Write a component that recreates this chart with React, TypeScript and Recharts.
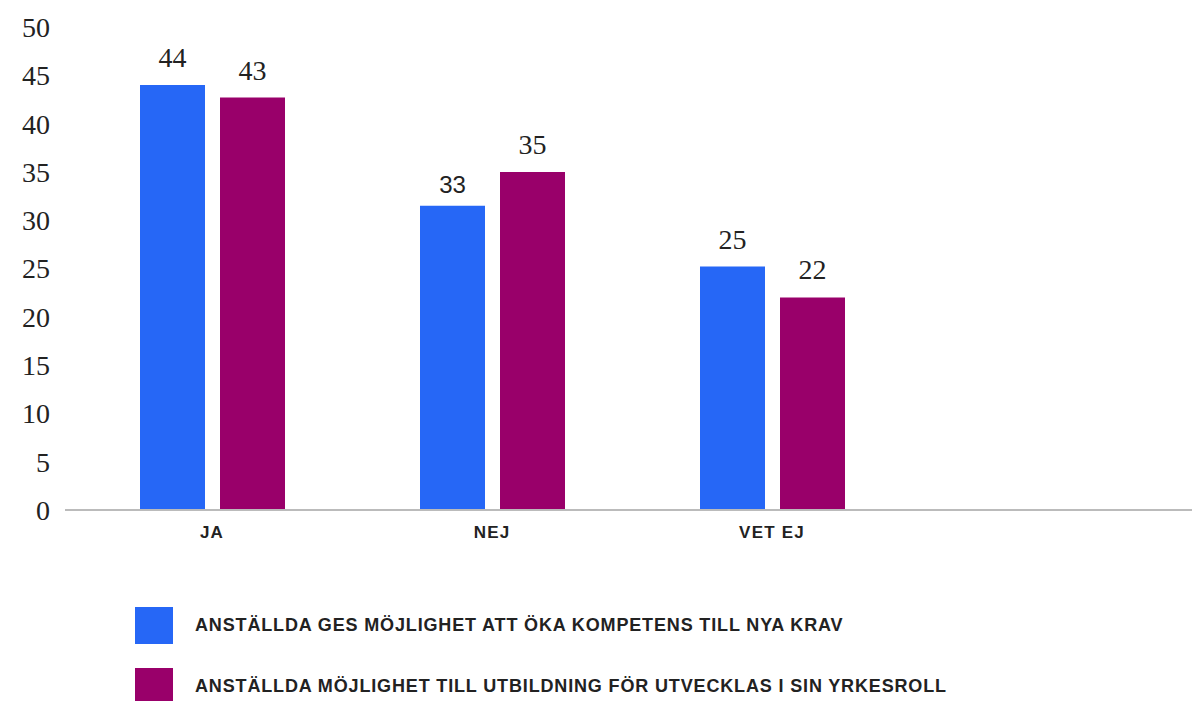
import React from "react";
import { BarChart, Bar, XAxis, YAxis, LabelList } from "recharts";

const categories = ["JA", "NEJ", "VET EJ", ""];
const seriesNames = [
  "ANSTÄLLDA GES MÖJLIGHET ATT ÖKA KOMPETENS TILL NYA KRAV",
  "ANSTÄLLDA MÖJLIGHET TILL UTBILDNING FÖR UTVECKLAS I SIN YRKESROLL",
];
const seriesA = [44, 31.5, 25.2, null];
const seriesB = [42.7, 35, 22, null];
const labelsA = ["44", "33", "25", ""];
const labelsB = ["43", "35", "22", ""];
const yTicks = [0, 5, 10, 15, 20, 25, 30, 35, 40, 45, 50];
const colors = ["#2667F6", "#99006A"];

const data = categories.map((c, i) => ({
  name: c,
  a: seriesA[i],
  b: seriesB[i],
  la: labelsA[i],
  lb: labelsB[i],
}));

const SERIF = "'Liberation Serif', 'DejaVu Serif', serif";
const SANS = "'Liberation Sans', Arial, sans-serif";

const makeLabel = (labels: string[], values: (number | null)[]) => (props: any) => {
  const { x, y, width, index } = props;
  const text = labels[index];
  if (!text) return null;
  const mismatch = String(Math.round(values[index] as number)) !== text;
  return (
    <text
      x={x + width / 2}
      y={y - (mismatch ? 13 : 18)}
      textAnchor="middle"
      fill="#222"
      fontFamily={mismatch ? SANS : SERIF}
      fontSize={mismatch ? 24 : 28}
    >
      {text}
    </text>
  );
};

const XTick = (props: any) => {
  const { x, y, payload } = props;
  return (
    <text
      x={x}
      y={y + 20}
      textAnchor="middle"
      fill="#222"
      fontFamily={SANS}
      fontWeight={900}
      fontSize={17}
      letterSpacing={1.2}
    >
      {payload.value}
    </text>
  );
};

export default function App() {
  return (
    <div style={{ position: "absolute", left: 0, top: 0, width: 1192, height: 701, background: "#fff" }}>
      <BarChart
        width={1192}
        height={701}
        data={data}
        margin={{ top: 27, right: 0, left: 0, bottom: 0 }}
        barGap={15}
        barSize={65}
      >
        <YAxis
          domain={[0, 50]}
          ticks={yTicks}
          width={65}
          axisLine={false}
          tickLine={false}
          tickSize={0}
          tickMargin={15}
          tick={{ fill: "#222", fontFamily: SERIF, fontSize: 28 }}
          interval={0}
        />
        <XAxis
          dataKey="name"
          height={191}
          axisLine={{ stroke: "#bbb", strokeWidth: 2 }}
          tickLine={false}
          padding={{ left: 7, right: 0 }}
          tick={<XTick />}
          interval={0}
        />
        <Bar dataKey="a" fill={colors[0]} isAnimationActive={false}>
          <LabelList dataKey="la" content={makeLabel(labelsA, seriesA)} />
        </Bar>
        <Bar dataKey="b" fill={colors[1]} isAnimationActive={false}>
          <LabelList dataKey="lb" content={makeLabel(labelsB, seriesB)} />
        </Bar>
      </BarChart>
      {seriesNames.map((n, i) => (
        <div
          key={n}
          style={{
            position: "absolute",
            left: 135,
            top: 606 + i * 61,
            height: 38,
            display: "flex",
            alignItems: "center",
          }}
        >
          <div style={{ width: 38, height: 37, background: colors[i] }} />
          <div
            style={{
              marginLeft: 22,
              fontFamily: SANS,
              fontWeight: 900,
              fontSize: 18,
              letterSpacing: 0.85,
              color: "#222",
              whiteSpace: "nowrap",
            }}
          >
            {n}
          </div>
        </div>
      ))}
    </div>
  );
}
